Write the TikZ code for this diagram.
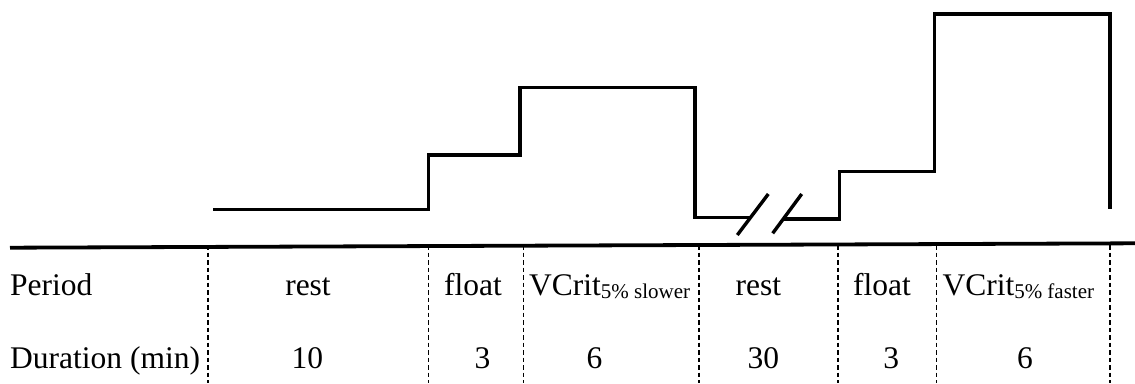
\documentclass[tikz,border=0pt]{standalone}
\usepackage{fontspec}
\setmainfont{Liberation Serif}
\tikzset{
  wave/.style={line width=3.4pt, line join=miter, line cap=butt},
  axisline/.style={line width=3.8pt},
  sep/.style={line width=1.2pt, dash pattern=on 4.5pt off 3pt},
  slashmark/.style={line width=3.4pt},
  lbl/.style={inner sep=0pt, font=\fontsize{31.5}{36}\selectfont},
}
\newcommand{\subtxt}[1]{\raisebox{-3pt}{\fontsize{21}{23}\selectfont #1}}
\begin{document}
\begin{tikzpicture}[x=1pt,y=-1pt]
\useasboundingbox (0,0) rectangle (1135,383);
% axis
\coordinate (axL) at (10,247.7);
\coordinate (axR) at (1135,243.3);
\draw[axisline] (axL) -- (axR);
% separators
\foreach \n/\x in {s1/208, s2/428.3, s3/523.5, s4/699, s5/838, s6/936.5, s7/1110}{
  \coordinate (\n t) at (\x,245);
  \coordinate (\n b) at (\x,383);
  \draw[sep] (\n t) -- (\n b);
}
% waveform
\draw[wave] (213,209.3) -- (428.3,209.3) -- (428.3,155) -- (520,155) -- (520,87.3)
  -- (695,87.3) -- (695,217.3) -- (750.5,217.3);
\draw[wave] (783,219) -- (839.5,219) -- (839.5,171.7) -- (934.3,171.7) -- (934.3,14)
  -- (1110,14) -- (1110,209.3);
% break marks
\coordinate (b1a) at (737.3,235); \coordinate (b1b) at (768.3,194);
\coordinate (b2a) at (772.7,233.3); \coordinate (b2b) at (801.7,194);
\draw[slashmark] (b1a) -- (b1b);
\draw[slashmark] (b2a) -- (b2b);
% labels row 1
\node[lbl, anchor=base west] (pl) at (10,295) {Period};
\node[lbl, anchor=base] (p1) at (308,295) {rest};
\node[lbl, anchor=base] (p2) at (473,295) {float};
\node[lbl, anchor=base west] (p3) at (529,295) {VCrit\subtxt{5\% slower}};
\node[lbl, anchor=base] (p4) at (758.3,295) {rest};
\node[lbl, anchor=base] (p5) at (882,295) {float};
\node[lbl, anchor=base west] (p6) at (942.3,295) {VCrit\subtxt{5\% faster}};
% labels row 2
\node[lbl, anchor=base west] (dl) at (10,368.5) {Duration (min)};
\node[lbl, anchor=base] (d1) at (307.3,368.5) {10};
\node[lbl, anchor=base] (d2) at (482.5,368.5) {3};
\node[lbl, anchor=base] (d3) at (594.5,368.5) {6};
\node[lbl, anchor=base] (d4) at (763.3,368.5) {30};
\node[lbl, anchor=base] (d5) at (891.3,368.5) {3};
\node[lbl, anchor=base] (d6) at (1025,368.5) {6};
\end{tikzpicture}
\end{document}
